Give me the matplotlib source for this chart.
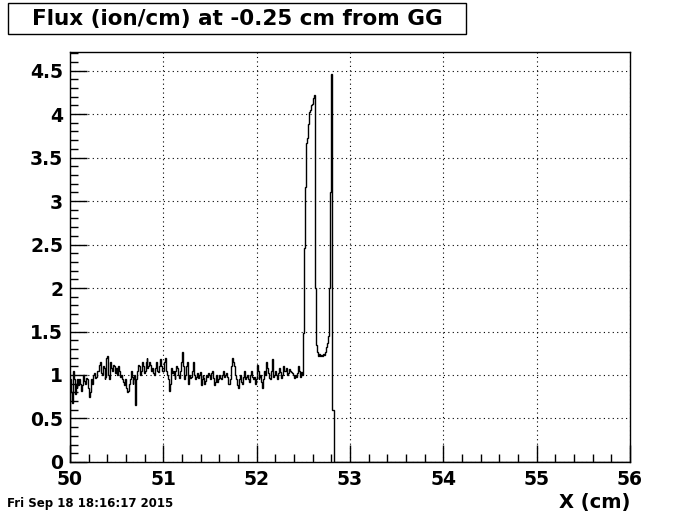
import numpy as np
import matplotlib
matplotlib.use("Agg")
import matplotlib.pyplot as plt
from matplotlib.patches import Rectangle
from matplotlib.ticker import MultipleLocator, FormatStrFormatter

# flux in 0.01 cm bins, 50.00 -> 52.50 cm (flat noisy part), one row per 0.1 cm
noise_vals = [
    0.95, 0.80, 0.68, 1.05, 0.95, 0.78, 0.90, 0.85, 0.95, 0.88,
    0.95, 0.90, 0.82, 0.88, 1.00, 0.93, 0.90, 0.97, 0.95, 0.85,
    0.75, 0.80, 0.85, 0.95, 0.90, 1.00, 1.02, 0.97, 0.98, 1.05,
    1.05, 1.12, 1.15, 1.02, 1.00, 1.10, 1.08, 0.95, 0.98, 1.20,
    1.22, 1.00, 0.95, 1.15, 1.08, 1.05, 1.12, 1.10, 1.02, 1.08,
    1.00, 1.10, 1.06, 1.05, 0.98, 1.00, 0.95, 0.92, 0.88, 0.95,
    0.85, 0.80, 0.82, 0.90, 0.95, 1.05, 0.98, 0.90, 0.95, 1.00,
    0.65, 0.95, 1.05, 1.12, 1.10, 1.00, 1.05, 1.15, 1.10, 1.02,
    1.05, 1.15, 1.20, 1.08, 1.10, 1.15, 1.12, 1.05, 1.08, 1.02,
    1.00, 1.08, 1.15, 1.05, 1.03, 1.10, 1.18, 1.12, 1.10, 1.05,
    1.05, 1.15, 1.20, 1.05, 1.00, 0.95, 0.82, 0.90, 1.08, 1.02,
    1.05, 1.00, 0.95, 1.05, 1.10, 1.08, 1.00, 0.97, 1.05, 1.15,
    1.26, 1.10, 0.95, 1.00, 1.10, 1.15, 0.90, 0.95, 1.00, 0.97,
    0.98, 1.05, 1.15, 1.00, 0.95, 0.98, 1.02, 0.97, 1.00, 1.03,
    0.88, 0.95, 1.00, 0.97, 0.90, 0.93, 1.00, 0.98, 1.02, 1.00,
    0.95, 1.02, 1.05, 0.97, 0.88, 0.92, 1.00, 0.97, 0.92, 0.95,
    1.00, 0.97, 0.95, 1.00, 1.05, 0.98, 1.00, 1.02, 0.98, 0.90,
    0.90, 0.95, 1.00, 1.10, 1.20, 1.15, 1.10, 1.00, 0.95, 0.88,
    0.85, 0.95, 1.00, 0.92, 0.90, 0.98, 1.05, 1.00, 0.95, 0.98,
    1.00, 0.95, 0.92, 1.00, 1.05, 0.98, 0.95, 0.98, 0.90, 0.95,
    1.12, 1.05, 0.95, 0.98, 1.00, 0.92, 0.85, 0.95, 1.05, 1.00,
    1.15, 1.08, 1.02, 0.97, 0.95, 1.05, 1.18, 1.10, 0.98, 1.00,
    1.05, 1.00, 0.95, 1.02, 1.08, 1.03, 0.97, 1.00, 1.10, 1.05,
    1.05, 1.08, 1.05, 1.00, 1.02, 1.07, 1.05, 1.03, 1.02, 1.00,
    0.97, 1.00, 0.98, 1.02, 1.10, 1.05, 0.98, 1.00, 1.03, 1.00,
]

# flux in 0.01 cm bins, 52.50 -> 52.85 cm (the two peaks)
peak_vals = [
    1.48, 2.46, 3.16, 3.67, 3.72, 3.88, 4.02, 4.05, 4.10, 4.12,
    4.18, 4.22, 4.22, 2.00, 1.34, 1.26, 1.22, 1.24, 1.22, 1.23,
    1.22, 1.24, 1.23, 1.27, 1.32, 1.37, 1.45, 1.52, 2.00, 3.10,
    4.46, 0.60, 0.60, 0.00, 0.00,
]

x_min, x_peak_end, x_max = 50.0, 52.85, 56.0
n_fine = len(noise_vals) + len(peak_vals)

edges = np.concatenate([np.linspace(x_min, x_peak_end, n_fine + 1), [x_max]])
values = np.array(noise_vals + peak_vals + [0.0])

fig = plt.figure(figsize=(7.0, 5.14), dpi=100)
ax = fig.add_axes([0.1, 0.1012, 0.8, 0.7976])

ax.stairs(values, edges, color="black", lw=1.0)

ax.set_xlim(x_min, x_max)
ax.set_ylim(0, 4.713)

ax.xaxis.set_major_locator(MultipleLocator(1))
ax.xaxis.set_minor_locator(MultipleLocator(0.2))
ax.yaxis.set_major_locator(MultipleLocator(0.5))
ax.yaxis.set_minor_locator(MultipleLocator(0.1))
ax.yaxis.set_major_formatter(FormatStrFormatter("%g"))

ax.tick_params(which="both", direction="in", top=False, right=False, color="black")
ax.tick_params(which="major", length=12, width=1, pad=5, labelsize=13.5)
ax.tick_params(axis="x", which="major", pad=6)
ax.tick_params(which="minor", length=6, width=1)
for lab in ax.get_xticklabels() + ax.get_yticklabels():
    lab.set_fontweight("bold")

ax.grid(True, which="major", linestyle=(0, (1, 3)), color="black", lw=0.8)
for s in ax.spines.values():
    s.set_linewidth(1.0)

# title box
fig.patches.append(Rectangle((0.0114, 0.9339), 0.654, 0.0603, transform=fig.transFigure,
                             facecolor="white", edgecolor="black", lw=1.0))
fig.text(0.339, 0.964, "Flux (ion/cm) at -0.25 cm from GG", ha="center", va="center",
         fontsize=15.5, fontweight="bold")

fig.text(0.9, 0.022, "X (cm)", ha="right", va="center", fontsize=14, fontweight="bold")
fig.text(0.01, 0.021, "Fri Sep 18 18:16:17 2015", ha="left", va="center",
         fontsize=8.5, fontweight="bold")

fig.savefig("out.png", dpi=100)
